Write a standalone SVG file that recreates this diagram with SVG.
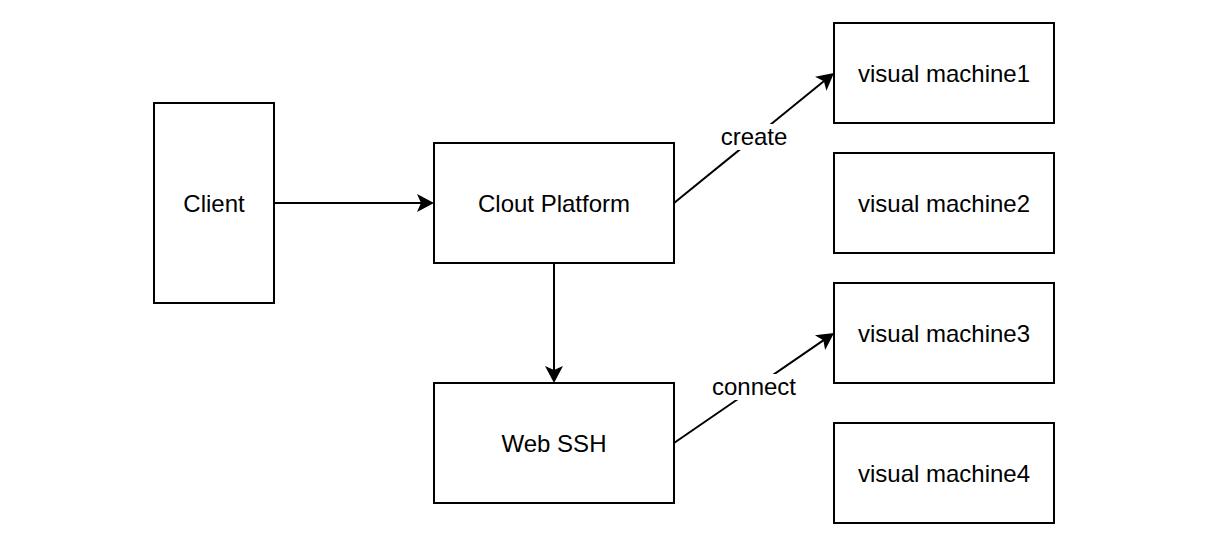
<svg xmlns="http://www.w3.org/2000/svg" width="1230" height="550" viewBox="0 0 1230 550">
  <style>
    .box { fill: #ffffff; stroke: #000000; stroke-width: 2; }
    .lbl { font-family: "Liberation Sans", Arial, Helvetica, sans-serif; font-size: 24px; fill: #000000; text-anchor: middle; }
    .edge { fill: none; stroke: #000000; stroke-width: 2; marker-end: url(#arrow); }
    .elbl-bg { fill: #ffffff; stroke: none; }
  </style>
  <defs>
    <marker id="arrow" markerUnits="userSpaceOnUse" viewBox="-12 -10 20 20" refX="0" refY="0" markerWidth="20" markerHeight="20" orient="auto">
      <path d="M-11,-9 L6,0 L-11,9 L-7,0 Z" fill="#000000"/>
    </marker>
  </defs>
  <rect width="1230" height="550" fill="#ffffff"/>

  <g id="edges">
    <line class="edge" x1="274" y1="203" x2="428" y2="203"/>
    <line class="edge" x1="554" y1="263" x2="554" y2="377"/>
    <line class="edge" x1="674" y1="203" x2="829.3" y2="76.8"/>
    <line class="edge" x1="674" y1="443" x2="829.1" y2="336.4"/>
    <g id="edge-create-label">
      <rect class="elbl-bg" x="720" y="124" width="68" height="26"/>
      <text class="lbl" x="754" y="144.5">create</text>
    </g>
    <g id="edge-connect-label">
      <rect class="elbl-bg" x="711" y="374" width="86" height="26"/>
      <text class="lbl" x="754" y="394.5">connect</text>
    </g>
  </g>

  <g id="client">
    <rect class="box" x="154" y="103" width="120" height="200"/>
    <text class="lbl" x="214" y="211.5">Client</text>
  </g>
  <g id="clout-platform">
    <rect class="box" x="434" y="143" width="240" height="120"/>
    <text class="lbl" x="554" y="211.5">Clout Platform</text>
  </g>
  <g id="web-ssh">
    <rect class="box" x="434" y="383" width="240" height="120"/>
    <text class="lbl" x="554" y="451.5">Web SSH</text>
  </g>
  <g id="vm1">
    <rect class="box" x="834" y="23" width="220" height="100"/>
    <text class="lbl" x="944" y="81.5">visual machine1</text>
  </g>
  <g id="vm2">
    <rect class="box" x="834" y="153" width="220" height="100"/>
    <text class="lbl" x="944" y="211.5">visual machine2</text>
  </g>
  <g id="vm3">
    <rect class="box" x="834" y="283" width="220" height="100"/>
    <text class="lbl" x="944" y="341.5">visual machine3</text>
  </g>
  <g id="vm4">
    <rect class="box" x="834" y="423" width="220" height="100"/>
    <text class="lbl" x="944" y="481.5">visual machine4</text>
  </g>
</svg>
